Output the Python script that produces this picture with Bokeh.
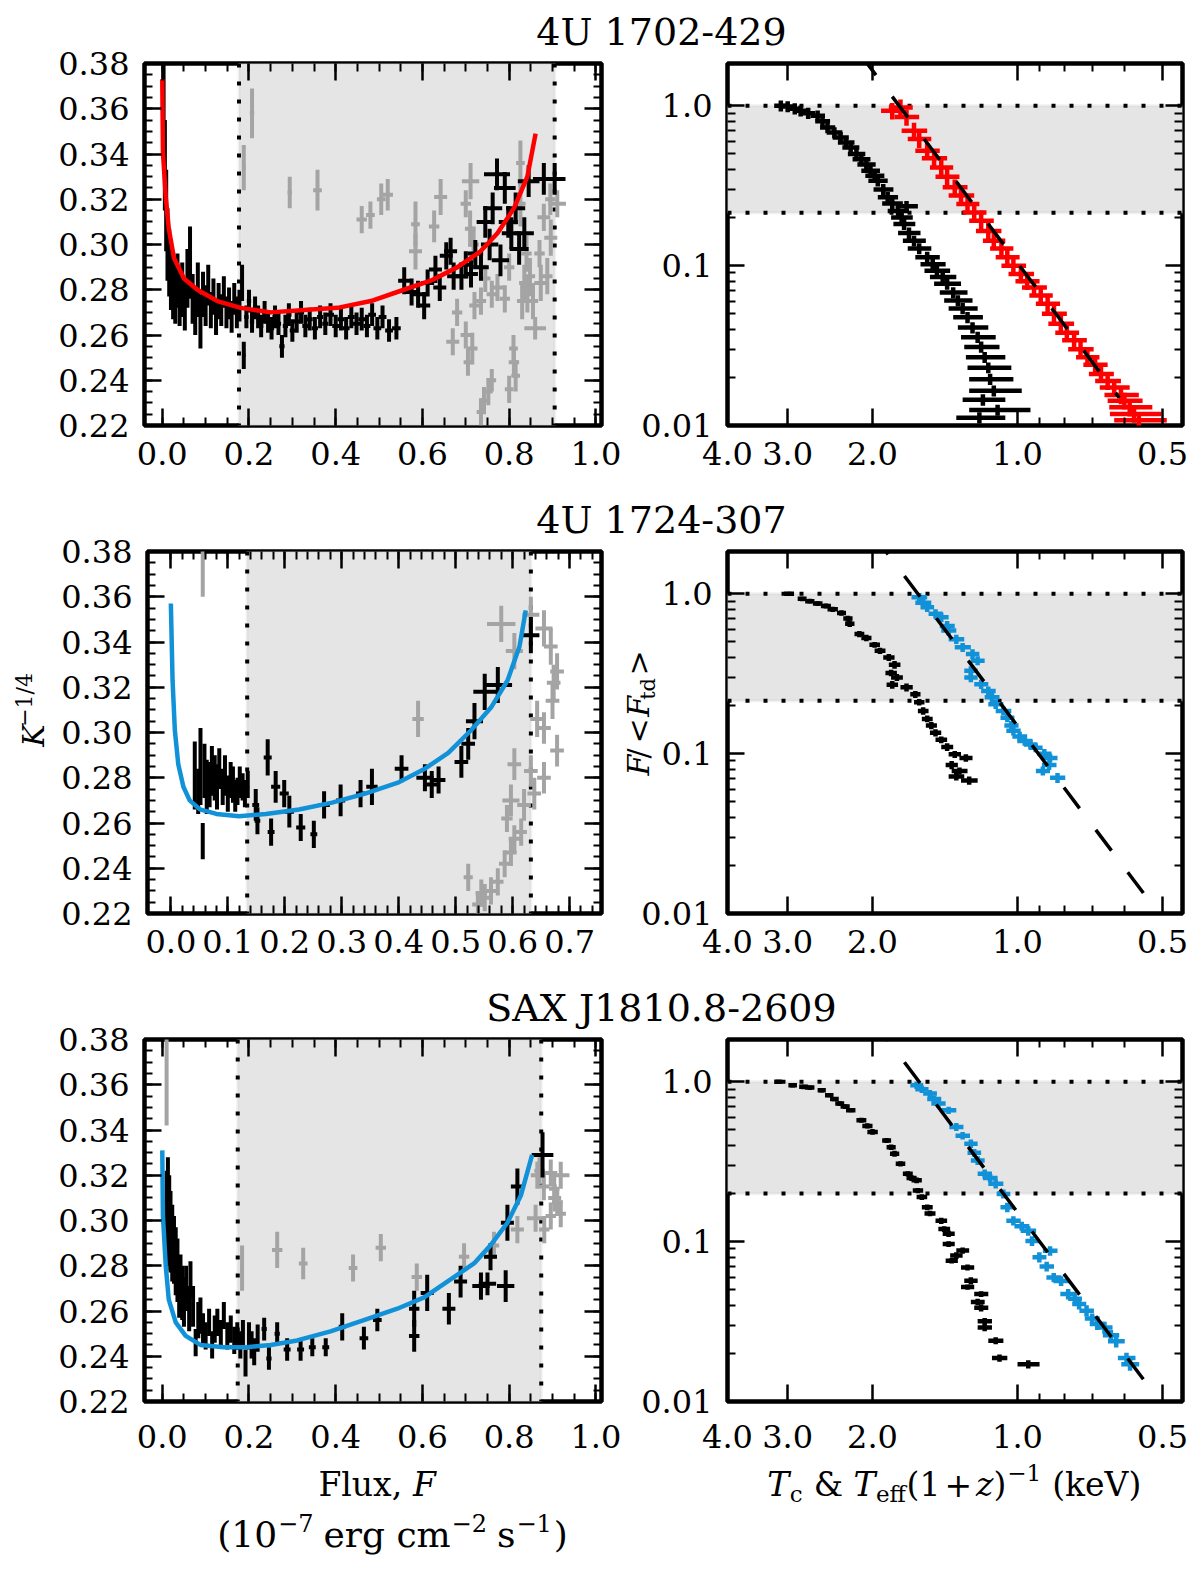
import numpy as np
from math import pi
from bokeh.plotting import figure
from bokeh.layouts import column, row
from bokeh.models import (Range1d, FixedTicker, LinearAxis, CustomJSTickFormatter,
                          BoxAnnotation, Span, Label)
from bokeh.embed import file_html
from bokeh.resources import INLINE

SERIF = "DejaVu Serif"
GRAY = "#a4a4a4"
BAND = "#e5e5e5"
BLUE = "#1192d8"
RED = "#ff0000"

titles = ["4U 1702-429", "4U 1724-307", "SAX J1810.8-2609"]

# ---------------- 4U 1702-429 ----------------
s1_band_flux = [0.177, 0.905]
s1_band_frac = [0.214, 1.0]

s1_blk_f = [0.003, 0.006, 0.009, 0.012, 0.016, 0.020, 0.025, 0.030, 0.035, 0.040,
            0.046, 0.052, 0.058, 0.064, 0.070, 0.076, 0.082, 0.088, 0.094, 0.100,
            0.106, 0.112, 0.118, 0.124, 0.130, 0.136, 0.142, 0.148, 0.154, 0.160,
            0.166, 0.172, 0.178, 0.184, 0.188, 0.194, 0.200, 0.207, 0.214, 0.221,
            0.228, 0.236, 0.244, 0.252, 0.260, 0.268, 0.276, 0.284, 0.292, 0.300,
            0.310, 0.320, 0.330, 0.340, 0.352, 0.364, 0.376, 0.388, 0.400, 0.412,
            0.424, 0.436, 0.448, 0.460, 0.472, 0.484, 0.496, 0.508, 0.523, 0.540,
            0.558, 0.575, 0.590, 0.604, 0.612, 0.630, 0.640, 0.655, 0.665, 0.672,
            0.690, 0.700, 0.712, 0.722, 0.735, 0.745, 0.755, 0.762, 0.772, 0.780,
            0.790, 0.798, 0.805, 0.815, 0.823, 0.835, 0.845, 0.880, 0.905]
s1_blk_k = [0.360, 0.335, 0.315, 0.300, 0.292, 0.285, 0.281, 0.278, 0.284, 0.276,
            0.280, 0.273, 0.285, 0.292, 0.276, 0.270, 0.280, 0.266, 0.278, 0.273,
            0.282, 0.271, 0.277, 0.268, 0.275, 0.271, 0.279, 0.270, 0.274, 0.268,
            0.276, 0.270, 0.273, 0.283, 0.251, 0.268, 0.275, 0.266, 0.272, 0.268,
            0.264, 0.270, 0.266, 0.263, 0.268, 0.265, 0.255, 0.264, 0.269, 0.262,
            0.266, 0.270, 0.264, 0.267, 0.263, 0.268, 0.265, 0.269, 0.264, 0.267,
            0.263, 0.268, 0.265, 0.267, 0.264, 0.269, 0.263, 0.268, 0.262, 0.263,
            0.284, 0.279, 0.278, 0.273, 0.283, 0.289, 0.281, 0.295, 0.297, 0.286,
            0.286, 0.291, 0.287, 0.296, 0.290, 0.310, 0.300, 0.316, 0.331, 0.293,
            0.325, 0.310, 0.305, 0.316, 0.298, 0.305, 0.328, 0.329, 0.329]
s1_blk_fe = [0.001, 0.001, 0.001, 0.002, 0.002, 0.002, 0.002, 0.002, 0.002, 0.002,
             0.002, 0.002, 0.002, 0.002, 0.002, 0.002, 0.002, 0.002, 0.002, 0.002,
             0.002, 0.002, 0.002, 0.002, 0.002, 0.002, 0.003, 0.003, 0.003, 0.003,
             0.003, 0.003, 0.003, 0.004, 0.004, 0.005, 0.005, 0.005, 0.005, 0.005,
             0.005, 0.006, 0.006, 0.006, 0.006, 0.006, 0.006, 0.006, 0.006, 0.006,
             0.007, 0.007, 0.007, 0.007, 0.007, 0.007, 0.007, 0.008, 0.008, 0.008,
             0.008, 0.008, 0.008, 0.008, 0.008, 0.009, 0.009, 0.009, 0.009, 0.010,
             0.014, 0.014, 0.014, 0.014, 0.015, 0.015, 0.015, 0.015, 0.015, 0.015,
             0.016, 0.016, 0.016, 0.018, 0.018, 0.020, 0.020, 0.022, 0.030, 0.020,
             0.025, 0.022, 0.022, 0.022, 0.022, 0.022, 0.025, 0.025, 0.025]
s1_blk_ke = [0.022, 0.020, 0.018, 0.016, 0.015, 0.014, 0.014, 0.013, 0.012, 0.012,
             0.012, 0.011, 0.013, 0.016, 0.011, 0.010, 0.012, 0.012, 0.010, 0.009,
             0.009, 0.008, 0.008, 0.008, 0.008, 0.007, 0.007, 0.007, 0.007, 0.007,
             0.007, 0.007, 0.007, 0.008, 0.006, 0.005, 0.005, 0.005, 0.005, 0.005,
             0.005, 0.005, 0.005, 0.005, 0.005, 0.005, 0.005, 0.005, 0.005, 0.005,
             0.005, 0.005, 0.005, 0.005, 0.005, 0.005, 0.005, 0.005, 0.005, 0.005,
             0.005, 0.005, 0.005, 0.005, 0.005, 0.005, 0.005, 0.005, 0.005, 0.005,
             0.006, 0.006, 0.006, 0.006, 0.006, 0.006, 0.006, 0.006, 0.006, 0.006,
             0.006, 0.006, 0.006, 0.006, 0.006, 0.007, 0.007, 0.007, 0.007, 0.007,
             0.007, 0.007, 0.007, 0.007, 0.007, 0.007, 0.007, 0.007, 0.007]

s1_gry_f = [0.188, 0.207, 0.294, 0.358, 0.460, 0.480, 0.505, 0.520, 0.584, 0.584,
            0.627, 0.642, 0.711, 0.700, 0.710, 0.718, 0.680, 0.670, 0.700, 0.715,
            0.705, 0.742, 0.752, 0.735, 0.760, 0.811, 0.815, 0.800, 0.810, 0.860,
            0.826, 0.826, 0.840, 0.848, 0.842, 0.830, 0.835, 0.855, 0.873, 0.888,
            0.896, 0.911, 0.880, 0.773, 0.760, 0.790, 0.735, 0.870, 0.895, 0.720,
            0.745, 0.800]
s1_gry_k = [0.334, 0.358, 0.323, 0.324, 0.311, 0.313, 0.320, 0.322, 0.297, 0.309,
            0.308, 0.321, 0.328, 0.318, 0.307, 0.300, 0.270, 0.257, 0.260, 0.254,
            0.248, 0.231, 0.235, 0.226, 0.240, 0.248, 0.242, 0.236, 0.254, 0.263,
            0.336, 0.318, 0.296, 0.286, 0.278, 0.275, 0.283, 0.275, 0.283, 0.286,
            0.303, 0.318, 0.312, 0.281, 0.278, 0.276, 0.275, 0.296, 0.320, 0.273,
            0.285, 0.290]
s1_gry_fe = [0.004, 0.005, 0.005, 0.010, 0.012, 0.010, 0.010, 0.012, 0.015, 0.010,
             0.012, 0.015, 0.020, 0.012, 0.012, 0.012, 0.012, 0.015, 0.012, 0.012,
             0.010, 0.010, 0.010, 0.010, 0.010, 0.012, 0.010, 0.010, 0.010, 0.025,
             0.010, 0.012, 0.012, 0.012, 0.012, 0.012, 0.012, 0.012, 0.015, 0.012,
             0.015, 0.020, 0.015, 0.015, 0.012, 0.012, 0.012, 0.012, 0.012, 0.012,
             0.012, 0.012]
s1_gry_ke = [0.010, 0.011, 0.007, 0.009, 0.006, 0.006, 0.007, 0.007, 0.008, 0.010,
             0.007, 0.008, 0.008, 0.006, 0.008, 0.008, 0.006, 0.006, 0.006, 0.007,
             0.006, 0.006, 0.006, 0.006, 0.005, 0.006, 0.007, 0.006, 0.006, 0.005,
             0.010, 0.010, 0.008, 0.008, 0.008, 0.008, 0.008, 0.008, 0.008, 0.008,
             0.008, 0.006, 0.006, 0.006, 0.006, 0.006, 0.006, 0.006, 0.007, 0.006,
             0.006, 0.006]

s1_fit_f = [0.0, 0.0015, 0.008, 0.015, 0.027, 0.050, 0.081, 0.127, 0.181, 0.250,
            0.327, 0.404, 0.481, 0.557, 0.619, 0.681, 0.734, 0.773, 0.811, 0.842, 0.861]
s1_fit_k = [0.373, 0.341, 0.321, 0.307, 0.294, 0.285, 0.280, 0.275, 0.272, 0.270,
            0.271, 0.272, 0.275, 0.280, 0.284, 0.290, 0.297, 0.305, 0.316, 0.330, 0.349]

s1_tc_t = [3.10, 3.00, 2.90, 2.82, 2.72, 2.60, 2.54, 2.48, 2.40, 2.33,
           2.27, 2.22, 2.16, 2.11, 2.06, 2.02, 1.98, 1.95, 1.90, 1.86,
           1.82, 1.77, 1.70, 1.74, 1.72, 1.68, 1.64, 1.60, 1.54, 1.50,
           1.47, 1.43, 1.40, 1.36, 1.33, 1.30, 1.27, 1.24, 1.21, 1.19,
           1.17, 1.15, 1.14, 1.12, 1.18, 1.10, 1.20]
s1_tc_f = [1.00, 0.99, 0.96, 0.93, 0.90, 0.866, 0.80, 0.732, 0.68, 0.634,
           0.59, 0.549, 0.50, 0.464, 0.43, 0.393, 0.365, 0.34, 0.30, 0.268,
           0.245, 0.22, 0.235, 0.20, 0.182, 0.16, 0.143, 0.128, 0.113, 0.102,
           0.093, 0.085, 0.077, 0.068, 0.0605, 0.054, 0.0475, 0.041, 0.0357, 0.031,
           0.0267, 0.023, 0.0195, 0.0165, 0.0145, 0.0125, 0.0112]
s1_tc_te = [0.10, 0.10, 0.10, 0.10, 0.09, 0.09, 0.09, 0.09, 0.09, 0.09,
            0.09, 0.09, 0.09, 0.09, 0.09, 0.09, 0.09, 0.09, 0.09, 0.09,
            0.09, 0.09, 0.09, 0.09, 0.09, 0.09, 0.09, 0.09, 0.09, 0.09,
            0.09, 0.09, 0.09, 0.09, 0.09, 0.09, 0.09, 0.09, 0.10, 0.10,
            0.11, 0.12, 0.12, 0.14, 0.12, 0.16, 0.14]
s1_tc_fe = [0.08, 0.08, 0.077, 0.074, 0.072, 0.069, 0.064, 0.059, 0.054, 0.051,
            0.047, 0.044, 0.04, 0.037, 0.034, 0.031, 0.029, 0.027, 0.024, 0.021,
            0.02, 0.018, 0.019, 0.016, 0.015, 0.013, 0.011, 0.01, 0.009, 0.008,
            0.0074, 0.0068, 0.0062, 0.0054, 0.0048, 0.0043, 0.0038, 0.0033, 0.0029, 0.0025,
            0.0021, 0.0018, 0.0016, 0.0013, 0.0012, 0.001, 0.0009]

s1_te_t = [1.75, 1.82, 1.70, 1.64, 1.60, 1.54, 1.49, 1.44, 1.40, 1.35,
           1.31, 1.27, 1.23, 1.19, 1.15, 1.12, 1.08, 1.05, 1.02, 0.984,
           0.955, 0.924, 0.895, 0.866, 0.84, 0.813, 0.79, 0.763, 0.74, 0.716,
           0.69, 0.671, 0.65, 0.63, 0.61, 0.60, 0.585, 0.573, 0.56]
s1_te_f = [0.976, 0.93, 0.85, 0.698, 0.62, 0.523, 0.47, 0.412, 0.36, 0.309,
           0.275, 0.243, 0.215, 0.191, 0.165, 0.143, 0.128, 0.113, 0.10, 0.0886,
           0.08, 0.0731, 0.065, 0.0577, 0.05, 0.0433, 0.038, 0.0341, 0.030, 0.0267,
           0.024, 0.021, 0.019, 0.0173, 0.0155, 0.0143, 0.013, 0.0118, 0.0108]
s1_te_te = [0.10, 0.10, 0.10, 0.10, 0.09, 0.09, 0.09, 0.08, 0.08, 0.08,
            0.08, 0.07, 0.07, 0.07, 0.07, 0.06, 0.06, 0.06, 0.06, 0.06,
            0.055, 0.055, 0.05, 0.05, 0.05, 0.05, 0.045, 0.045, 0.045, 0.04,
            0.04, 0.04, 0.04, 0.045, 0.05, 0.05, 0.06, 0.07, 0.07]
s1_te_fe = [0.12, 0.11, 0.10, 0.085, 0.075, 0.063, 0.056, 0.05, 0.043, 0.037,
            0.033, 0.029, 0.026, 0.023, 0.02, 0.017, 0.015, 0.014, 0.012, 0.011,
            0.0096, 0.0088, 0.0078, 0.0069, 0.006, 0.0052, 0.0046, 0.0041, 0.0036, 0.0032,
            0.0029, 0.0025, 0.0023, 0.0021, 0.0019, 0.0017, 0.0016, 0.0014, 0.0013]

s1_bb_t = [2.12, 0.615]
s1_bb_f = [2.10, 0.0149]

# ---------------- 4U 1724-307 ----------------
s2_band_flux = [0.134, 0.632]
s2_band_frac = [0.214, 1.0]

s2_blk_f = [0.042, 0.048, 0.052, 0.056, 0.059, 0.063, 0.068, 0.072, 0.077, 0.081,
            0.085, 0.091, 0.095, 0.100, 0.105, 0.109, 0.113, 0.117, 0.121, 0.126,
            0.130, 0.135, 0.149, 0.152, 0.170, 0.176, 0.184, 0.199, 0.208, 0.228,
            0.251, 0.269, 0.298, 0.333, 0.353, 0.405, 0.446, 0.458, 0.470, 0.510,
            0.522, 0.533, 0.551, 0.574, 0.632]
s2_blk_k = [0.281, 0.274, 0.285, 0.252, 0.283, 0.276, 0.277, 0.283, 0.280, 0.276,
            0.284, 0.276, 0.281, 0.273, 0.279, 0.277, 0.272, 0.274, 0.278, 0.276,
            0.273, 0.277, 0.268, 0.261, 0.289, 0.256, 0.276, 0.273, 0.265, 0.258,
            0.255, 0.268, 0.270, 0.273, 0.276, 0.284, 0.280, 0.277, 0.279, 0.287,
            0.295, 0.305, 0.318, 0.321, 0.343]
s2_blk_fe = [0.002, 0.002, 0.002, 0.002, 0.002, 0.002, 0.002, 0.002, 0.002, 0.002,
             0.002, 0.002, 0.002, 0.002, 0.002, 0.002, 0.002, 0.002, 0.002, 0.002,
             0.002, 0.002, 0.006, 0.005, 0.007, 0.006, 0.008, 0.008, 0.008, 0.008,
             0.006, 0.010, 0.008, 0.008, 0.010, 0.012, 0.015, 0.012, 0.012, 0.012,
             0.012, 0.015, 0.020, 0.025, 0.015]
s2_blk_ke = [0.015, 0.010, 0.017, 0.008, 0.012, 0.012, 0.010, 0.011, 0.010, 0.010,
             0.009, 0.008, 0.009, 0.008, 0.008, 0.008, 0.007, 0.006, 0.007, 0.006,
             0.006, 0.006, 0.007, 0.006, 0.008, 0.006, 0.007, 0.006, 0.007, 0.006,
             0.006, 0.006, 0.007, 0.006, 0.008, 0.006, 0.006, 0.006, 0.006, 0.007,
             0.007, 0.008, 0.008, 0.008, 0.008]

s2_gry_f = [0.056, 0.434, 0.580, 0.603, 0.632, 0.655, 0.667, 0.678, 0.672, 0.670,
            0.643, 0.655, 0.678, 0.603, 0.632, 0.655, 0.597, 0.620, 0.638, 0.603,
            0.615, 0.597, 0.586, 0.574, 0.562, 0.551, 0.539, 0.522, 0.545, 0.590]
s2_gry_k = [0.375, 0.306, 0.348, 0.336, 0.352, 0.346, 0.338, 0.327, 0.322, 0.314,
            0.306, 0.302, 0.292, 0.286, 0.283, 0.280, 0.270, 0.268, 0.273, 0.253,
            0.256, 0.247, 0.242, 0.234, 0.230, 0.227, 0.224, 0.236, 0.229, 0.262]
s2_gry_fe = [0.002, 0.010, 0.025, 0.015, 0.015, 0.015, 0.012, 0.012, 0.012, 0.012,
             0.012, 0.012, 0.012, 0.012, 0.012, 0.012, 0.015, 0.012, 0.012, 0.010,
             0.010, 0.010, 0.010, 0.010, 0.010, 0.010, 0.010, 0.008, 0.010, 0.010]
s2_gry_ke = [0.015, 0.008, 0.008, 0.008, 0.008, 0.008, 0.008, 0.008, 0.008, 0.008,
             0.008, 0.007, 0.007, 0.007, 0.007, 0.007, 0.007, 0.007, 0.007, 0.006,
             0.006, 0.006, 0.006, 0.006, 0.006, 0.006, 0.006, 0.006, 0.006, 0.006]

s2_fit_f = [0.0, 0.003, 0.007, 0.013, 0.022, 0.033, 0.051, 0.080, 0.120, 0.167,
            0.225, 0.283, 0.341, 0.400, 0.446, 0.487, 0.527, 0.562, 0.591, 0.612, 0.623]
s2_fit_k = [0.357, 0.323, 0.301, 0.286, 0.276, 0.270, 0.266, 0.264, 0.263, 0.264,
            0.266, 0.269, 0.273, 0.278, 0.284, 0.291, 0.301, 0.311, 0.323, 0.338, 0.354]

s2_tc_t = [2.98, 2.80, 2.70, 2.60, 2.50, 2.42, 2.32, 2.25, 2.23, 2.13,
           2.06, 1.98, 1.93, 1.85, 1.80, 1.83, 1.78, 1.82, 1.70, 1.63,
           1.60, 1.57, 1.54, 1.51, 1.48, 1.44, 1.40, 1.35, 1.28, 1.37,
           1.32, 1.34, 1.26]
s2_tc_f = [1.00, 0.93, 0.90, 0.87, 0.84, 0.80, 0.76, 0.70, 0.65, 0.56,
           0.53, 0.48, 0.44, 0.40, 0.36, 0.32, 0.30, 0.27, 0.26, 0.235,
           0.21, 0.185, 0.165, 0.15, 0.135, 0.122, 0.11, 0.099, 0.094, 0.085,
           0.078, 0.072, 0.068]
s2_tc_te = [0.07, 0.06, 0.06, 0.06, 0.06, 0.06, 0.05, 0.05, 0.05, 0.05,
            0.05, 0.05, 0.05, 0.05, 0.05, 0.05, 0.05, 0.05, 0.05, 0.04,
            0.04, 0.04, 0.04, 0.04, 0.04, 0.04, 0.04, 0.04, 0.04, 0.04,
            0.05, 0.05, 0.05]
s2_tc_fe = [0.03, 0.03, 0.03, 0.03, 0.03, 0.03, 0.03, 0.03, 0.03, 0.025,
            0.025, 0.02, 0.02, 0.02, 0.02, 0.015, 0.015, 0.015, 0.015, 0.012,
            0.01, 0.01, 0.008, 0.008, 0.007, 0.006, 0.006, 0.005, 0.005, 0.005,
            0.004, 0.004, 0.004]

s2_te_t = [1.60, 1.57, 1.54, 1.48, 1.44, 1.40, 1.39, 1.34, 1.30, 1.24,
           1.21, 1.25, 1.25, 1.19, 1.15, 1.13, 1.11, 1.07, 1.05, 1.03,
           1.02, 0.99, 0.966, 0.94, 0.917, 0.88, 0.856, 0.886, 0.826, 0.86]
s2_te_f = [0.953, 0.88, 0.825, 0.75, 0.714, 0.63, 0.589, 0.52, 0.463, 0.42,
           0.382, 0.33, 0.30, 0.272, 0.247, 0.225, 0.204, 0.185, 0.168, 0.15,
           0.139, 0.128, 0.12, 0.114, 0.109, 0.10, 0.094, 0.078, 0.0706, 0.085]
s2_te_te = [0.06, 0.06, 0.05, 0.05, 0.05, 0.05, 0.05, 0.05, 0.05, 0.04,
            0.04, 0.04, 0.04, 0.04, 0.04, 0.04, 0.04, 0.04, 0.035, 0.035,
            0.035, 0.035, 0.035, 0.03, 0.03, 0.03, 0.03, 0.03, 0.03, 0.03]
s2_te_fe = [0.06, 0.06, 0.055, 0.05, 0.05, 0.045, 0.04, 0.035, 0.03, 0.03,
            0.025, 0.022, 0.02, 0.018, 0.016, 0.015, 0.014, 0.012, 0.011, 0.01,
            0.009, 0.009, 0.008, 0.008, 0.007, 0.007, 0.006, 0.005, 0.005, 0.006]

s2_bb_t = [2.0, 0.49]
s2_bb_f = [2.38, 0.0086]

# ---------------- SAX J1810.8-2609 ----------------
s3_band_flux = [0.174, 0.874]
s3_band_frac = [0.20, 1.0]

s3_blk_f = [0.010, 0.013, 0.016, 0.019, 0.023, 0.027, 0.031, 0.035, 0.039, 0.042,
            0.046, 0.050, 0.055, 0.062, 0.065, 0.071, 0.077, 0.083, 0.088, 0.094,
            0.100, 0.108, 0.115, 0.121, 0.127, 0.135, 0.142, 0.150, 0.158, 0.166,
            0.173, 0.180, 0.186, 0.192, 0.200, 0.206, 0.212, 0.220, 0.235, 0.246,
            0.265, 0.288, 0.319, 0.346, 0.377, 0.415, 0.465, 0.496, 0.581, 0.581,
            0.611, 0.661, 0.688, 0.735, 0.750, 0.757, 0.792, 0.796, 0.819, 0.877]
s3_blk_k = [0.300, 0.308, 0.300, 0.295, 0.290, 0.287, 0.282, 0.278, 0.270, 0.273,
            0.268, 0.264, 0.270, 0.261, 0.274, 0.262, 0.246, 0.256, 0.258, 0.252,
            0.249, 0.255, 0.245, 0.252, 0.255, 0.250, 0.258, 0.249, 0.252, 0.247,
            0.249, 0.245, 0.250, 0.237, 0.249, 0.245, 0.242, 0.248, 0.252, 0.239,
            0.250, 0.243, 0.243, 0.244, 0.244, 0.253, 0.248, 0.256, 0.249, 0.261,
            0.268, 0.261, 0.273, 0.271, 0.272, 0.284, 0.271, 0.299, 0.315, 0.329]
s3_blk_fe = [0.002, 0.002, 0.002, 0.002, 0.002, 0.002, 0.002, 0.002, 0.002, 0.002,
             0.002, 0.002, 0.002, 0.002, 0.002, 0.002, 0.002, 0.002, 0.002, 0.002,
             0.002, 0.002, 0.002, 0.002, 0.002, 0.002, 0.002, 0.002, 0.002, 0.002,
             0.002, 0.002, 0.002, 0.003, 0.003, 0.003, 0.003, 0.003, 0.006, 0.006,
             0.006, 0.008, 0.008, 0.008, 0.008, 0.008, 0.010, 0.010, 0.012, 0.012,
             0.015, 0.015, 0.015, 0.020, 0.020, 0.015, 0.020, 0.015, 0.015, 0.025]
s3_blk_ke = [0.022, 0.020, 0.020, 0.018, 0.017, 0.015, 0.015, 0.014, 0.013, 0.012,
             0.012, 0.011, 0.010, 0.010, 0.008, 0.009, 0.006, 0.008, 0.008, 0.007,
             0.006, 0.006, 0.006, 0.006, 0.006, 0.006, 0.006, 0.006, 0.006, 0.006,
             0.006, 0.006, 0.006, 0.006, 0.006, 0.006, 0.006, 0.006, 0.005, 0.005,
             0.005, 0.005, 0.005, 0.004, 0.004, 0.006, 0.005, 0.005, 0.007, 0.008,
             0.008, 0.007, 0.007, 0.006, 0.005, 0.006, 0.007, 0.008, 0.008, 0.010]

s3_gry_f = [0.010, 0.184, 0.265, 0.325, 0.440, 0.504, 0.587, 0.696, 0.765, 0.819,
            0.861, 0.881, 0.865, 0.896, 0.919, 0.904, 0.911, 0.919, 0.896, 0.880,
            0.870, 0.905]
s3_gry_k = [0.365, 0.279, 0.287, 0.281, 0.279, 0.288, 0.275, 0.284, 0.289, 0.296,
            0.301, 0.296, 0.320, 0.321, 0.320, 0.314, 0.308, 0.303, 0.302, 0.315,
            0.322, 0.310]
s3_gry_fe = [0.002, 0.004, 0.012, 0.010, 0.010, 0.012, 0.012, 0.012, 0.012, 0.015,
             0.020, 0.012, 0.015, 0.015, 0.020, 0.012, 0.012, 0.012, 0.012, 0.012,
             0.012, 0.015]
s3_gry_ke = [0.023, 0.010, 0.008, 0.007, 0.006, 0.006, 0.006, 0.006, 0.006, 0.006,
             0.006, 0.006, 0.006, 0.006, 0.006, 0.006, 0.006, 0.006, 0.006, 0.006,
             0.006, 0.006]

s3_fit_f = [0.0, 0.0015, 0.008, 0.015, 0.031, 0.054, 0.088, 0.142, 0.196, 0.250,
            0.311, 0.388, 0.465, 0.542, 0.604, 0.665, 0.719, 0.757, 0.796, 0.827, 0.853]
s3_fit_k = [0.331, 0.302, 0.280, 0.265, 0.255, 0.249, 0.245, 0.244, 0.244, 0.245,
            0.247, 0.251, 0.256, 0.261, 0.266, 0.274, 0.281, 0.289, 0.299, 0.311, 0.329]

s3_tc_t = [3.14, 2.93, 2.78, 2.70, 2.55, 2.46, 2.40, 2.34, 2.28, 2.22,
           2.11, 2.05, 2.00, 1.87, 1.83, 1.80, 1.75, 1.69, 1.66, 1.62,
           1.61, 1.58, 1.54, 1.52, 1.44, 1.42, 1.39, 1.39, 1.30, 1.34,
           1.37, 1.27, 1.25, 1.27, 1.19, 1.21, 1.19, 1.17, 1.17, 1.11,
           1.09, 0.95]
s3_tc_f = [1.0, 0.953, 0.93, 0.92, 0.886, 0.825, 0.78, 0.731, 0.70, 0.664,
           0.575, 0.53, 0.486, 0.43, 0.39, 0.355, 0.307, 0.266, 0.25, 0.242,
           0.209, 0.19, 0.164, 0.15, 0.135, 0.12, 0.112, 0.0966, 0.088, 0.082,
           0.076, 0.0689, 0.0569, 0.052, 0.047, 0.042, 0.0386, 0.0318, 0.029, 0.024,
           0.0187, 0.0171]
s3_tc_te = [0.06, 0.06, 0.06, 0.06, 0.05, 0.05, 0.05, 0.05, 0.05, 0.05,
            0.05, 0.05, 0.05, 0.04, 0.04, 0.04, 0.04, 0.04, 0.04, 0.04,
            0.04, 0.04, 0.04, 0.04, 0.04, 0.04, 0.04, 0.04, 0.04, 0.04,
            0.04, 0.04, 0.04, 0.04, 0.04, 0.04, 0.04, 0.04, 0.04, 0.04,
            0.04, 0.05]
s3_tc_fe = [0.03, 0.03, 0.03, 0.03, 0.03, 0.025, 0.025, 0.025, 0.025, 0.02,
            0.02, 0.02, 0.02, 0.015, 0.015, 0.015, 0.012, 0.01, 0.01, 0.01,
            0.008, 0.008, 0.007, 0.006, 0.006, 0.005, 0.005, 0.004, 0.004, 0.004,
            0.003, 0.003, 0.003, 0.002, 0.002, 0.002, 0.002, 0.0015, 0.0015, 0.0012,
            0.001, 0.001]

s3_te_t = [1.62, 1.52, 1.46, 1.39, 1.34, 1.25, 1.21, 1.17, 1.11, 1.07,
           1.05, 1.02, 0.95, 0.933, 0.901, 0.856, 0.841, 0.812, 0.785, 0.745,
           0.719, 0.683, 0.66, 0.624, 0.594, 0.584,
           1.58, 1.49, 1.30, 1.23, 1.14, 0.98, 0.87, 0.76, 0.70, 0.64]
s3_te_f = [0.953, 0.845, 0.731, 0.664, 0.522, 0.41, 0.322, 0.266, 0.23, 0.199,
           0.164, 0.135, 0.117, 0.101, 0.08, 0.0877, 0.0597, 0.0568, 0.047, 0.0407,
           0.037, 0.0305, 0.029, 0.0238, 0.0187, 0.0171,
           0.90, 0.78, 0.46, 0.36, 0.25, 0.125, 0.07, 0.044, 0.033, 0.026]
s3_te_te = [0.05, 0.05, 0.05, 0.05, 0.045, 0.04, 0.04, 0.04, 0.04, 0.035,
            0.035, 0.035, 0.035, 0.03, 0.03, 0.03, 0.03, 0.03, 0.03, 0.025,
            0.025, 0.025, 0.025, 0.025, 0.025, 0.025,
            0.05, 0.05, 0.045, 0.04, 0.04, 0.035, 0.03, 0.025, 0.025, 0.025]
s3_te_fe = [0.05, 0.045, 0.04, 0.035, 0.03, 0.025, 0.02, 0.017, 0.015, 0.013,
            0.011, 0.009, 0.008, 0.007, 0.006, 0.006, 0.004, 0.004, 0.0035, 0.003,
            0.003, 0.0025, 0.0025, 0.002, 0.0015, 0.0015,
            0.05, 0.04, 0.025, 0.02, 0.015, 0.008, 0.005, 0.003, 0.0025, 0.002]

s3_bb_t = [2.0, 0.49]
s3_bb_f = [2.44, 0.0088]

# ---------------- axes ----------------
flux_ticks_a = [0.0, 0.2, 0.4, 0.6, 0.8, 1.0]
flux_minor_a = [round(0.05 * i, 2) for i in range(21)]
flux_ticks_b = [0.0, 0.1, 0.2, 0.3, 0.4, 0.5, 0.6, 0.7]
flux_minor_b = [round(0.02 * i, 2) for i in range(38)]
k_ticks = [round(0.22 + 0.02 * i, 2) for i in range(9)]
k_minor = [round(0.22 + 0.005 * i, 3) for i in range(33)]
t_ticks = [4.0, 3.0, 2.0, 1.0, 0.5]
t_minor = [0.6, 0.7, 0.8, 0.9]
fr_ticks = [0.01, 0.1, 1.0]
fr_minor = [k * 0.01 for k in range(2, 10)] + [k * 0.1 for k in range(2, 10)]

T_RANGE = (4.0, 0.4545)
FR_RANGE = (0.01, 1.84)

CW = {"0": .636, "1": .636, "2": .636, "4": .636, "7": .636, ".": .318, " ": .318,
      "(": .390, ")": .390, "−": .838, "+": .838, "<": .838, ">": .838, "/": .337,
      "&": .872, ",": .318, "F": .716, "K": .774, "T": .682, "V": .722, "l": .320,
      "u": .644, "x": .565, "e": .592, "r": .478, "g": .635, "c": .560, "m": .948,
      "s": .513, "t": .402, "d": .640, "f": .370, "z": .525, "k": .619}

TOP = 28       # top border of every panel figure
OVERLAP = 24   # title strips reach this far into the panel row below them


def tw(text, size):
    return sum(CW.get(c, 0.6) for c in text) * size


def strip(w, h):
    p = figure(width=w, height=h, x_range=Range1d(0, w), y_range=Range1d(0, h),
               x_axis_location=None, y_axis_location=None, min_border=0, title=None,
               toolbar_location=None, output_backend="svg")
    p.grid.visible = False
    p.outline_line_color = None
    p.background_fill_color = None
    p.border_fill_color = None
    return p


def put(p, x, y, pieces, vertical=False):
    # pieces: (text, size, italic, shift of the text middle, gap before)
    pos = -sum(tw(t, s) + g for t, s, it, sh, g in pieces) / 2
    for t, s, it, sh, g in pieces:
        pos += g
        if vertical:
            lx, ly, ang = x - sh, y + pos, pi / 2
        else:
            lx, ly, ang = x + pos, y + sh, 0
        p.add_layout(Label(x=lx, y=ly, text=t, angle=ang, text_font=SERIF,
                           text_font_size=f"{s}px",
                           text_font_style="italic" if it else "normal",
                           text_color="black", text_align="left",
                           text_baseline="middle"))
        pos += tw(t, s)


def title_strip(text, h):
    p = strip(1190, h)
    p.add_layout(Label(x=661, y=28, text=text, text_align="center",
                       text_baseline="middle", text_font=SERIF,
                       text_font_size="38px", text_color="black"))
    return p


def frame(p, xt, xm, yt, ym, xcode, ycode, standoff):
    p.add_layout(LinearAxis(), "above")
    p.add_layout(LinearAxis(), "right")
    p.grid.visible = False
    p.outline_line_color = "black"
    p.outline_line_width = 4.5
    p.border_fill_color = None
    for ax in p.xaxis:
        ax.ticker = FixedTicker(ticks=xt, minor_ticks=xm)
    for ax in p.yaxis:
        ax.ticker = FixedTicker(ticks=yt, minor_ticks=ym)
    for ax in list(p.xaxis) + list(p.yaxis):
        ax.axis_line_color = None
        ax.major_tick_in = 17
        ax.major_tick_out = 0
        ax.minor_tick_in = 8
        ax.minor_tick_out = 0
        ax.major_tick_line_width = 2.5
        ax.minor_tick_line_width = 2
        ax.major_tick_line_color = "black"
        ax.minor_tick_line_color = "black"
        ax.major_label_text_font = SERIF
        ax.major_label_text_font_size = "32px"
        ax.major_label_text_color = "black"
    for ax in list(p.above) + list(p.right):
        ax.formatter = CustomJSTickFormatter(code="return '';")
        ax.major_label_text_font_size = "1px"
        ax.major_label_text_color = None
        ax.major_label_standoff = 0
    p.below[0].formatter = CustomJSTickFormatter(code=xcode)
    p.below[0].major_label_standoff = standoff
    p.left[0].formatter = CustomJSTickFormatter(code=ycode)
    p.left[0].major_label_standoff = 15


def crosses(p, x, y, xe, ye, color, lw):
    x, y, xe, ye = map(np.asarray, (x, y, xe, ye))
    p.segment(x - xe, y, x + xe, y, line_color=color, line_width=lw)
    p.segment(x, y - ye, x, y + ye, line_color=color, line_width=lw)


def left_panel(width, mb, xend, xt, xm, band, gry, blk, fit, color, standoff):
    p = figure(width=width, height=TOP + 362 + mb[2], x_range=Range1d(-0.041, xend),
               y_range=Range1d(0.22, 0.38), min_border_left=mb[0],
               min_border_right=mb[1], min_border_top=TOP, min_border_bottom=mb[2],
               title=None, toolbar_location=None, output_backend="svg")
    frame(p, xt, xm, k_ticks, k_minor, "return tick.toFixed(1);",
          "return tick.toFixed(2);", standoff)
    p.add_layout(BoxAnnotation(left=band[0], right=band[1], fill_color=BAND, fill_alpha=1.0,
                               line_color="#d0d0d0", line_width=3, level="underlay"))
    for loc in band:
        p.add_layout(Span(location=loc, dimension="height", line_color="black",
                          line_width=4, line_dash="4 14", level="underlay"))
    crosses(p, *gry, GRAY, 4)
    crosses(p, *blk, "black", 4)
    p.line(fit[0], fit[1], line_color=color, line_width=4.5)
    return p


def right_panel(width, mb, band, blk, hot, color, bb, standoff):
    p = figure(width=width, height=TOP + 362 + mb[2], x_axis_type="log", y_axis_type="log",
               x_range=Range1d(*T_RANGE), y_range=Range1d(*FR_RANGE),
               min_border_left=mb[0], min_border_right=mb[1],
               min_border_top=TOP, min_border_bottom=mb[2], title=None,
               toolbar_location=None, output_backend="svg")
    frame(p, t_ticks, t_minor, fr_ticks, fr_minor, "return tick.toFixed(1);",
          "return tick < 0.05 ? tick.toFixed(2) : tick.toFixed(1);", standoff)
    p.add_layout(BoxAnnotation(bottom=band[0], top=band[1], fill_color=BAND, fill_alpha=1.0,
                               line_color="#d0d0d0", line_width=3, level="underlay"))
    for loc in band:
        p.add_layout(Span(location=loc, dimension="width", line_color="black",
                          line_width=4, line_dash="4 14", level="underlay"))
    crosses(p, *blk, "black", 4.5)
    crosses(p, *hot, color, 4.5)
    p.line(bb[0], bb[1], line_color="black", line_width=3.5, line_dash="26 27")
    return p


# row 1: frames x 144-601 and 727-1182, y 63-425
l1 = left_panel(630, (144, 29, 71), 1.013, flux_ticks_a, flux_minor_a, s1_band_flux,
                (s1_gry_f, s1_gry_k, s1_gry_fe, s1_gry_ke),
                (s1_blk_f, s1_blk_k, s1_blk_fe, s1_blk_ke), (s1_fit_f, s1_fit_k), RED, 16)
r1 = right_panel(560, (97, 8, 71), s1_band_frac, (s1_tc_t, s1_tc_f, s1_tc_te, s1_tc_fe),
                 (s1_te_t, s1_te_f, s1_te_te, s1_te_fe), RED, (s1_bb_t, s1_bb_f), 16)

# row 2 (carries the shared y labels)
l2 = left_panel(551, (86, 8, 71), 0.756, flux_ticks_b, flux_minor_b, s2_band_flux,
                (s2_gry_f, s2_gry_k, s2_gry_fe, s2_gry_ke),
                (s2_blk_f, s2_blk_k, s2_blk_fe, s2_blk_ke), (s2_fit_f, s2_fit_k), BLUE, 16)
r2 = right_panel(581, (118, 8, 71), s2_band_frac, (s2_tc_t, s2_tc_f, s2_tc_te, s2_tc_fe),
                 (s2_te_t, s2_te_f, s2_te_te, s2_te_fe), BLUE, (s2_bb_t, s2_bb_f), 16)
r2.styles = {"margin-left": "-53px"}

row_h = TOP + 362 + 71
kstrip = strip(58, row_h)
put(kstrip, 33, 252, [("K", 30, True, 0, 0), ("−1/4", 22, False, 9, 2)], vertical=True)
fstrip = strip(53, row_h)
put(fstrip, 29, 252,
    [("F", 30, True, 0, 0), ("/", 30, False, 0, 0), ("<", 30, False, 0, 9),
     ("F", 30, True, 0, 9), ("td", 21, False, -9, 0), (">", 30, False, 0, 9)],
    vertical=True)

# row 3
l3 = left_panel(630, (144, 29, 62), 1.013, flux_ticks_a, flux_minor_a, s3_band_flux,
                (s3_gry_f, s3_gry_k, s3_gry_fe, s3_gry_ke),
                (s3_blk_f, s3_blk_k, s3_blk_fe, s3_blk_ke), (s3_fit_f, s3_fit_k), BLUE, 23)
r3 = right_panel(560, (97, 8, 62), s3_band_frac, (s3_tc_t, s3_tc_f, s3_tc_te, s3_tc_fe),
                 (s3_te_t, s3_te_f, s3_te_te, s3_te_fe), BLUE, (s3_bb_t, s3_bb_f), 23)

# x labels under the bottom row
xstrip = strip(1190, 122)
xstrip.styles = {"margin-top": "-20px"}
put(xstrip, 377, 81, [("Flux,", 33, False, 0, 0), ("F", 33, True, 0, 10)])
put(xstrip, 392, 31,
    [("(10", 36, False, 0, 0), ("−7", 24, False, 12, 1), ("erg cm", 36, False, 0, 10),
     ("−2", 24, False, 12, 1), ("s", 36, False, 0, 10), ("−1", 24, False, 12, 1),
     (")", 36, False, 0, 2)])
put(xstrip, 954, 81,
    [("T", 33, True, 0, 0), ("c", 23, False, -9, 0), ("&", 33, False, 0, 11),
     ("T", 33, True, 0, 11), ("eff", 23, False, -9, 0), ("(1", 33, False, 0, 0),
     ("+", 33, False, 0, 4), ("z", 33, True, 0, 4), (")", 33, False, 0, 0),
     ("−1", 23, False, 12, 1), ("(keV)", 33, False, 0, 11)])

shift = {"margin-top": f"-{OVERLAP}px"}
page = column(title_strip(titles[0], 59), row(l1, r1, styles=shift),
              title_strip(titles[1], 51), row(kstrip, l2, fstrip, r2, styles=shift),
              title_strip(titles[2], 51), row(l3, r3, styles=shift),
              xstrip)

open("out.html", "w").write(file_html(page, INLINE))
